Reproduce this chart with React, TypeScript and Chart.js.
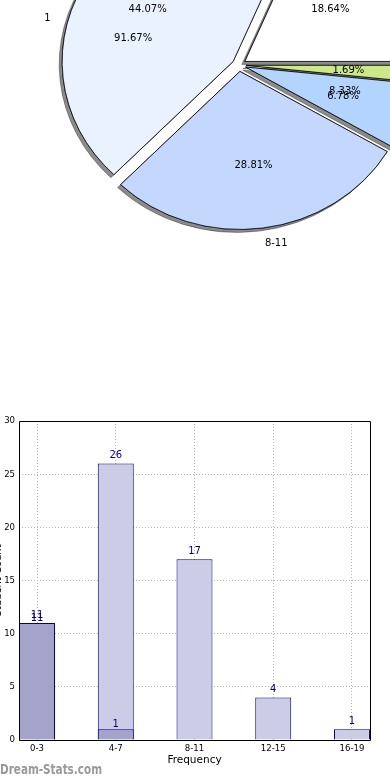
import React, { useEffect, useRef } from 'react';
import { Chart, registerables } from 'chart.js';

Chart.register(...registerables);

// ---------------- data ----------------
const categories = ['0-3', '4-7', '8-11', '12-15', '16-19'];
const seriesA = [11, 26, 17, 4, 1];
const seriesB = [11, 1, 0, 0, 0];
const pieColors = ['#ffffff', '#eaf1ff', '#c4d8ff', '#b2d4ff', '#cce888'];
const secondPieValues = [11, 1];
const secondPieLabels = ['1', '2'];
const yTicks = [0, 5, 10, 15, 20, 25, 30];

// ---------------- styling constants ----------------
const FONT = '"DejaVu Sans", sans-serif';
const NARROW = '"Liberation Sans Narrow", "DejaVu Sans Condensed", sans-serif';
const PIE_RADIUS = 171;
const PIE_Y_RATIO = 0.924;
const EXPLODE = 7;
const PIE_CANVAS = 500;
const PIE_CENTER = { x: 239, y: 65 };

const fmtPct = (v: number, total: number) => ((v / total) * 100).toFixed(2) + '%';

const piePlugin = {
  id: 'mplPie',
  beforeDatasetDraw(chart: any, args: any) {
    const ctx = chart.ctx;
    const els = args.meta.data;
    if (!els.length) return false;
    const cx = els[0].x;
    const cy = els[0].y;
    ctx.save();
    ctx.translate(cx, cy);
    ctx.scale(1, PIE_Y_RATIO);
    ctx.translate(-cx, -cy);
    els.forEach((el: any) => {
      const mid = (el.startAngle + el.endAngle) / 2;
      ctx.save();
      ctx.translate(Math.cos(mid) * EXPLODE, Math.sin(mid) * EXPLODE);
      ctx.save();
      ctx.shadowColor = 'rgba(0,0,0,0.45)';
      ctx.shadowOffsetX = -3;
      ctx.shadowOffsetY = 3;
      ctx.shadowBlur = 0;
      el.draw(ctx);
      ctx.restore();
      el.draw(ctx);
      ctx.restore();
    });
    ctx.restore();
    return false;
  },
  afterDraw(chart: any) {
    const ctx = chart.ctx;
    const els = chart.getDatasetMeta(0).data;
    if (!els.length) return;
    const cx = els[0].x;
    const cy = els[0].y;
    const R = els[0].outerRadius;
    const at = (angle: number, frac: number) => ({
      x: cx + Math.cos(angle) * (frac * R + EXPLODE),
      y: cy + Math.sin(angle) * (frac * R + EXPLODE) * PIE_Y_RATIO,
    });
    ctx.save();
    ctx.font = `10px ${FONT}`;
    ctx.fillStyle = '#000';
    ctx.textBaseline = 'middle';
    const drawSlice = (mid: number, label: string, pct: string) => {
      const lp = at(mid, 1.1);
      ctx.textAlign = Math.cos(mid) > 0 ? 'left' : 'right';
      ctx.fillText(label, lp.x, lp.y);
      const pp = at(mid, 0.6);
      ctx.textAlign = 'center';
      ctx.fillText(pct, pp.x, pp.y);
    };
    const values = chart.data.datasets[0].data as number[];
    const labels = chart.data.labels as string[];
    const total = values.reduce((a, b) => a + b, 0);
    els.forEach((el: any, i: number) => {
      drawSlice((el.startAngle + el.endAngle) / 2, labels[i], fmtPct(values[i], total));
    });
    const total2 = secondPieValues.reduce((a, b) => a + b, 0);
    let a = els[0].startAngle;
    secondPieValues.forEach((v, k) => {
      const sweep = (v / total2) * Math.PI * 2;
      const mid = a - sweep / 2;
      a -= sweep;
      drawSlice(mid, secondPieLabels[k], fmtPct(v, total2));
    });
    ctx.restore();
  },
};

function PieChart() {
  const ref = useRef<HTMLCanvasElement>(null);
  useEffect(() => {
    if (!ref.current) return;
    const order = categories.map((_, i) => categories.length - 1 - i);
    const chart = new Chart(ref.current, {
      type: 'pie',
      data: {
        labels: order.map((i) => categories[i]),
        datasets: [
          {
            data: order.map((i) => seriesA[i]),
            backgroundColor: order.map((i) => pieColors[i]),
            borderColor: '#000',
            borderWidth: 0.8,
          },
        ],
      },
      options: {
        responsive: false,
        animation: false,
        events: [],
        rotation: 90,
        radius: PIE_RADIUS,
        layout: { padding: 0 },
        plugins: { legend: { display: false }, tooltip: { enabled: false } },
      } as any,
      plugins: [piePlugin as any],
    });
    return () => chart.destroy();
  }, []);
  return (
    <canvas
      ref={ref}
      width={PIE_CANVAS}
      height={PIE_CANVAS}
      style={{
        position: 'absolute',
        left: PIE_CENTER.x - PIE_CANVAS / 2,
        top: PIE_CENTER.y - PIE_CANVAS / 2,
        width: PIE_CANVAS,
        height: PIE_CANVAS,
      }}
    />
  );
}

const barValuePlugin = {
  id: 'barValues',
  afterDatasetsDraw(chart: any) {
    const ctx = chart.ctx;
    ctx.save();
    ctx.font = `10px ${FONT}`;
    ctx.fillStyle = '#000080';
    ctx.textAlign = 'center';
    ctx.textBaseline = 'bottom';
    chart.data.datasets.forEach((ds: any, di: number) => {
      const meta = chart.getDatasetMeta(di);
      const gap = di === 0 ? 0 : 3;
      meta.data.forEach((bar: any, i: number) => {
        const v = ds.data[i].y;
        if (v > 0) ctx.fillText(String(v), bar.x, bar.y - gap);
      });
    });
    ctx.restore();
  },
};

const barDecorPlugin = {
  id: 'barDecor',
  afterDraw(chart: any) {
    const { ctx, chartArea: a } = chart;
    ctx.save();
    ctx.strokeStyle = '#000';
    ctx.lineWidth = 1;
    ctx.beginPath();
    ctx.rect(a.left + 0.5, a.top + 0.5, a.right - a.left, a.bottom - a.top);
    ctx.stroke();
    // x title
    ctx.fillStyle = '#000';
    ctx.font = `10.5px ${FONT}`;
    ctx.textAlign = 'center';
    ctx.textBaseline = 'middle';
    ctx.fillText('Frequency', (a.left + a.right) / 2, a.bottom + 20);
    // y title (mostly cut off at the left edge)
    ctx.save();
    ctx.translate(1, (a.top + a.bottom) / 2);
    ctx.rotate(-Math.PI / 2);
    ctx.textBaseline = 'alphabetic';
    ctx.font = `10px ${FONT}`;
    ctx.fillText('Student Count', 0, 0);
    ctx.restore();
    // watermark
    ctx.save();
    ctx.fillStyle = '#999999';
    ctx.font = `bold 14px ${NARROW}`;
    ctx.textAlign = 'left';
    ctx.textBaseline = 'alphabetic';
    const text = 'Dream-Stats.com';
    const w = ctx.measureText(text).width;
    ctx.translate(0, 374);
    ctx.scale(Math.min(1, 102 / w), 1);
    ctx.fillText(text, 0, 0);
    ctx.restore();
    ctx.restore();
  },
};

function BarChart() {
  const ref = useRef<HTMLCanvasElement>(null);
  useEffect(() => {
    if (!ref.current) return;
    const tickFont = { family: NARROW, size: 9.5 };
    const chart = new Chart(ref.current, {
      type: 'bar',
      data: {
        datasets: [
          {
            label: 'B',
            data: seriesB.map((y, i) => ({ x: i, y })),
            backgroundColor: '#a3a3cc',
            borderColor: '#000080',
            borderWidth: 1,
            order: 0,
          },
          {
            label: 'A',
            data: seriesA.map((y, i) => ({ x: i, y })),
            backgroundColor: '#ccccE6',
            borderColor: '#000080',
            borderWidth: 1,
            order: 1,
          },
        ],
      },
      options: {
        responsive: false,
        animation: false,
        events: [],
        datasets: { bar: { grouped: false, categoryPercentage: 1, barPercentage: 0.457 } },
        layout: { padding: { top: 21, right: 20, left: 0, bottom: 0 } },
        plugins: { legend: { display: false }, tooltip: { enabled: false } },
        scales: {
          x: {
            type: 'linear',
            offset: false,
            min: -0.229,
            max: 4.229,
            afterBuildTicks: (s: any) => {
              s.ticks = categories.map((_, i) => ({ value: i }));
            },
            afterFit: (s: any) => {
              s.height = 40;
            },
            ticks: {
              callback: (v: any) => categories[v] ?? '',
              font: tickFont,
              color: '#000',
              padding: 3,
              autoSkip: false,
              maxRotation: 0,
            },
            grid: { color: '#b4b4b4', lineWidth: 1, drawTicks: false, offset: false },
            border: { display: false, dash: [1, 2] },
          },
          y: {
            type: 'linear',
            min: 0,
            max: 30,
            afterBuildTicks: (s: any) => {
              s.ticks = yTicks.map((v) => ({ value: v }));
            },
            afterFit: (s: any) => {
              s.width = 19;
            },
            ticks: { font: tickFont, color: '#000', padding: 4 },
            grid: { color: '#b4b4b4', lineWidth: 1, drawTicks: false },
            border: { display: false, dash: [1, 2] },
          },
        },
      } as any,
      plugins: [barValuePlugin as any, barDecorPlugin as any],
    });
    return () => chart.destroy();
  }, []);
  return (
    <canvas
      ref={ref}
      width={390}
      height={380}
      style={{ position: 'absolute', left: 0, top: 400, width: 390, height: 380 }}
    />
  );
}

export default function App() {
  return (
    <div
      style={{
        position: 'absolute',
        left: 0,
        top: 0,
        width: 390,
        height: 780,
        overflow: 'hidden',
        background: '#ffffff',
      }}
    >
      <PieChart />
      <BarChart />
    </div>
  );
}
